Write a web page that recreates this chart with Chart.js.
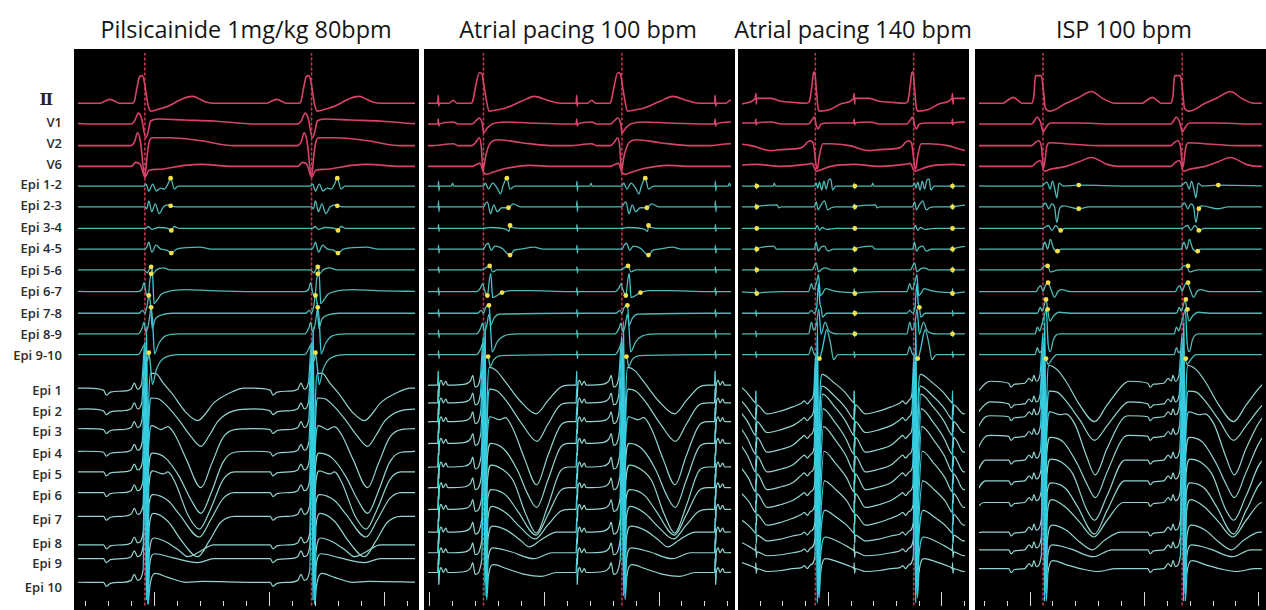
<!DOCTYPE html>
<html>
<head>
<meta charset="utf-8">
<script src="https://cdn.jsdelivr.net/npm/chart.js@4.4.1/dist/chart.umd.min.js"></script>
<style>
  html, body { margin: 0; padding: 0; background: #fff; }
  body { width: 1266px; height: 610px; position: relative; overflow: hidden; font-family: "Open Sans", "Noto Sans", sans-serif; }
  .title { position: absolute; top: 13px; font-size: 23.4px; line-height: 32px; color: #151515; white-space: nowrap; transform: translateX(-50%); }
  .lead { position: absolute; left: 0; width: 62px; text-align: right; font-size: 13px; font-weight: 600; color: #2b2b2b; line-height: 18px; white-space: nowrap; }
  .lead.roman { font-family: "DejaVu Serif", "Liberation Serif", serif; font-size: 16px; font-weight: 700; color: #262626; width: 53px; }
  .panel { position: absolute; top: 49px; background: #000; }
</style>
</head>
<body>
<script>
// ---------------------------------------------------------------
// Recording data: times in ms, amplitudes in display units (up = +)
// ---------------------------------------------------------------
const panelTitles = ['Pilsicainide 1mg/kg 80bpm', 'Atrial pacing 100 bpm', 'Atrial pacing 140 bpm', 'ISP 100 bpm'];
const leadNames = ['Ⅱ', 'V1', 'V2', 'V6',
  'Epi 1-2', 'Epi 2-3', 'Epi 3-4', 'Epi 4-5', 'Epi 5-6', 'Epi 6-7', 'Epi 7-8', 'Epi 8-9', 'Epi 9-10',
  'Epi 1', 'Epi 2', 'Epi 3', 'Epi 4', 'Epi 5', 'Epi 6', 'Epi 7', 'Epi 8', 'Epi 9', 'Epi 10'];

// sweep length shown in each panel (ms)
const sweepMs = [1466, 1322, 982, 1237];

// QRS times of each sweep (ms from its left edge), including the beats just outside it
const beatsP1 = [-434, 291, 1016];
const beatsP2 = [-362, 242, 846, 1450];
const beatsP3 = [-110, 323, 756];
const beatsP4 = [-328, 280, 888];

// QRS reference markers
const qrsMarkP1 = [291, 1016];
const qrsMarkP2 = [242, 846];
const qrsMarkP3 = [323, 756];
const qrsMarkP4 = [280, 888];

// 100 ms time marks: first mark and index of the first 500 ms mark
const timeMarkStart = [30, 6, 78, 21];
const timeMarkMajor = [3, 5, 3, 2];

// ---------- Pilsicainide 80 bpm: one cycle per lead, [ms from QRS, amplitude] ----------
const p1Ecg = [
  [[-250,0],[-195,0],[-175,2],[-152,4],[-130,2],[-110,0],[-55,0],[-46,2],[-35,15],[-23,27],[-11,28],[0,18],[12,0],[25,-8],[45,-7],[100,-3],[150,3],[180,6],[209,7],[240,4],[270,1],[300,0],[475,0]],
  [[-250,0],[-60,0],[-45,3],[-28,11],[-15,6],[4,-14],[14,-8],[25,3],[60,5],[173,4],[300,3],[400,1],[475,0]],
  [[-250,0],[-60,0],[-45,4],[-32,13],[-20,5],[0,-31],[10,-10],[18,3],[32,8],[103,8],[244,5],[385,0],[475,0]],
  [[-250,0],[-60,0],[-40,4],[-20,2],[0,-11],[18,-4],[60,-3],[173,1],[244,2],[385,0],[475,0]]
];
const p1Bip = [
  [[-250,0],[-5,0],[5,2],[17,-5],[34,2],[50,-5],[68,-2],[85,-3],[100,2],[112,8],[128,-3],[145,0],[475,0]],
  [[-250,0],[0,0],[8,-2],[17,6],[30,-5],[45,3],[62,-7],[81,0],[102,2],[112,1],[140,0],[475,0]],
  [[-250,0],[5,0],[15,2],[30,-1],[60,1],[100,0],[115,-2],[128,2],[150,0],[475,0]],
  [[-250,0],[0,0],[8,2],[17,7],[30,-3],[48,4],[70,0],[95,-1],[115,-4],[138,0],[240,2],[290,0],[475,0]],
  [[-250,0],[-5,0],[10,-3],[20,1],[27,3],[35,-4],[50,0],[80,2],[110,0],[475,0]],
  [[-250,0],[-30,0],[-12,3],[-4,9],[4,0],[14,-6],[22,12],[27,18],[32,22],[40,-12],[55,-8],[70,-3],[100,0],[180,2],[280,1],[475,0]],
  [[-250,0],[-25,0],[-10,3],[0,0],[10,8],[17,18],[24,10],[32,-15],[45,-6],[70,-2],[120,0],[475,0]],
  [[-250,0],[-30,0],[-12,6],[-4,12],[4,2],[14,8],[22,20],[27,27],[33,15],[42,-20],[60,-10],[90,-2],[150,0],[475,0]],
  [[-250,0],[-30,0],[-12,6],[-4,10],[4,0],[12,-6],[17,2],[24,-10],[33,-30],[50,-15],[80,-4],[150,0],[475,0]]
];
const p1Uni = [
  [[-250,3],[-180,1],[-168,-4],[-150,-1],[-100,0],[-60,2],[-46,8],[-32,2],[-14,8],[0,50],[6,-212],[14,-40],[26,18],[46,18],[80,8],[120,-3],[180,-22],[230,-30],[260,-24],[300,-12],[386,0],[430,3],[475,3]],
  [[-250,2],[-180,0],[-168,-4],[-150,-1],[-100,0],[-60,2],[-46,8],[-32,2],[-14,8],[1,60],[7,-192],[15,-30],[28,13],[60,12],[100,4],[150,-10],[200,-26],[244,-36],[280,-25],[320,-10],[386,0],[475,2]],
  [[-250,1],[-180,0],[-168,-4],[-150,-1],[-100,0],[-60,2],[-46,8],[-32,2],[-13,9],[2,70],[8,-100],[16,-20],[30,4],[70,0],[100,3],[130,-5],[180,-30],[244,-59],[290,-35],[340,-8],[390,0],[475,1]],
  [[-250,1],[-180,0],[-168,-4],[-150,-1],[-100,0],[-60,2],[-46,8],[-32,2],[-12,10],[3,80],[9,-90],[17,-15],[32,-1],[90,-6],[150,-25],[200,-48],[244,-62],[290,-40],[340,-10],[390,0],[475,1]],
  [[-250,0],[-180,0],[-168,-4],[-150,-1],[-100,0],[-60,2],[-46,8],[-32,2],[-11,10],[4,90],[10,-80],[18,-12],[34,1],[80,-2],[100,0],[130,-10],[190,-45],[237,-58],[285,-38],[340,-8],[390,0],[475,0]],
  [[-250,0],[-180,0],[-168,-4],[-150,-1],[-100,0],[-60,2],[-46,8],[-32,2],[-10,10],[5,100],[11,-70],[19,-10],[36,-2],[100,-8],[150,-22],[237,-45],[285,-28],[340,-6],[390,0],[475,0]],
  [[-250,0],[-180,0],[-168,-4],[-150,-1],[-100,0],[-60,2],[-46,8],[-32,2],[-9,10],[6,130],[12,-60],[20,-8],[38,3],[100,-5],[160,-25],[230,-41],[280,-25],[330,-6],[390,0],[475,0]],
  [[-250,0],[-180,0],[-168,-4],[-150,-1],[-100,0],[-60,2],[-46,8],[-32,2],[-8,12],[6,180],[12,-60],[20,-6],[40,7],[100,2],[150,-6],[187,-12],[230,-8],[300,0],[475,0]],
  [[-250,0],[-180,0],[-168,-4],[-150,-1],[-100,0],[-60,2],[-46,8],[-32,2],[-8,12],[7,230],[13,-46],[21,-5],[42,5],[120,1],[230,-4],[300,0],[475,0]],
  [[-250,0],[-180,0],[-168,-4],[-150,-1],[-100,0],[-60,2],[-46,8],[-32,2],[-8,12],[8,260],[14,-22],[22,-3],[44,9],[100,5],[180,0],[250,1],[475,0]]
];
// activation marks: [bipolar lead index, ms, amplitude]
const p1Marks = [[0,403,8],[0,1128,8],[1,403,1],[1,1128,1],[2,406,-2],[2,1131,-2],[3,406,-4],[3,1131,-4],
  [4,318,3],[4,1043,3],[5,318,18],[5,1043,18],[6,308,18],[6,1033,18],[7,318,27],[7,1043,27],[8,308,2],[8,1033,2]];

// ---------- Atrial pacing 100 bpm (stimulus 196 ms before QRS) ----------
const p2Ecg = [
  [[-230,0],[-200,0],[-197,8],[-195,-3],[-192,0],[-150,0],[-132,3],[-115,0],[-55,0],[-47,2],[-35,16],[-18,31],[-7,30],[2,18],[13,3],[24,-8],[50,-7],[94,-5],[166,2],[222,7],[279,3],[336,0],[374,0]],
  [[-230,0],[-200,0],[-197,5],[-195,-2],[-192,0],[-132,2],[-110,0],[-50,0],[-30,4],[-18,6],[-5,0],[0,-9],[17,-4],[38,0],[100,2],[200,1],[374,0]],
  [[-230,0],[-132,2],[-110,0],[-50,0],[-35,3],[-18,8],[-10,0],[-2,-25],[10,-10],[31,3],[66,6],[166,3],[308,0],[374,0]],
  [[-230,0],[-50,0],[-30,2],[-15,3],[0,-6],[15,-8],[40,-6],[100,-2],[200,1],[300,0],[374,0]]
];
const p2Bip = [
  [[-230,0],[-198,0],[-196,5],[-194,-5],[-192,0],[-140,0],[-135,3],[-130,0],[0,0],[8,3],[22,-3],[40,3],[62,-3],[74,-8],[85,0],[102,8],[116,-3],[138,0],[374,0]],
  [[-230,0],[-198,0],[-196,6],[-194,-5],[-192,0],[0,0],[8,3],[17,5],[31,-7],[45,2],[60,-5],[80,-1],[109,-1],[130,3],[160,0],[374,0]],
  [[-230,0],[-198,0],[-196,4],[-194,-3],[-192,0],[0,0],[30,1],[100,-1],[112,-3],[116,3],[125,1],[160,0],[374,0]],
  [[-230,0],[-198,0],[-196,4],[-194,-4],[-192,0],[0,0],[10,4],[20,6],[34,-1],[50,3],[80,1],[116,-6],[135,-1],[160,0],[220,2],[260,0],[374,0]],
  [[-230,0],[-198,0],[-196,3],[-194,-3],[-192,0],[-5,0],[10,2],[27,4],[40,-2],[60,0],[374,0]],
  [[-230,0],[-198,0],[-196,4],[-194,-4],[-192,0],[-30,0],[-12,4],[-4,8],[4,2],[17,-4],[26,12],[32,18],[40,-6],[60,-4],[81,-1],[120,1],[200,1],[374,0]],
  [[-230,0],[-198,0],[-196,4],[-194,-4],[-192,0],[-25,0],[-10,3],[0,0],[10,6],[24,8],[32,-12],[46,-5],[70,-1],[374,0]],
  [[-230,0],[-198,0],[-196,4],[-194,-4],[-192,0],[-30,0],[-12,6],[-4,11],[4,2],[14,8],[24,20],[30,10],[38,-18],[60,-8],[90,-2],[150,0],[374,0]],
  [[-230,0],[-198,0],[-196,4],[-194,-4],[-192,0],[-30,0],[-12,6],[-4,11],[4,0],[12,-3],[20,-2],[30,-12],[45,-5],[80,-1],[374,0]]
];
const p2Uni = [
  [[-230,0],[-200,0],[-197,14],[-195,-12],[-192,0],[-184,5],[-176,0],[-164,4],[-156,0],[-80,1],[-55,5],[-47,10],[-36,-2],[-14,8],[0,50],[6,-200],[14,-40],[26,18],[55,15],[100,2],[160,-16],[230,-29],[280,-16],[336,-2],[374,0]],
  [[-230,0],[-200,0],[-197,14],[-195,-12],[-192,0],[-184,5],[-176,0],[-164,4],[-156,0],[-80,1],[-55,5],[-47,10],[-36,-2],[-14,8],[1,60],[7,-196],[15,-30],[28,14],[60,12],[100,2],[170,-22],[234,-39],[280,-22],[336,-2],[374,0]],
  [[-230,0],[-200,0],[-197,14],[-195,-12],[-192,0],[-184,5],[-176,0],[-164,4],[-156,0],[-80,1],[-55,5],[-47,10],[-36,-2],[-13,9],[2,70],[8,-110],[16,-20],[30,5],[70,2],[95,4],[130,-8],[180,-38],[232,-64],[280,-35],[336,-4],[374,0]],
  [[-230,0],[-200,0],[-197,14],[-195,-12],[-192,0],[-184,5],[-176,0],[-164,4],[-156,0],[-80,1],[-55,5],[-47,10],[-36,-2],[-12,10],[3,80],[9,-95],[17,-15],[32,0],[90,-6],[150,-28],[190,-50],[232,-65],[280,-38],[336,-4],[374,0]],
  [[-230,0],[-200,0],[-197,14],[-195,-12],[-192,0],[-184,5],[-176,0],[-164,4],[-156,0],[-80,1],[-55,5],[-47,10],[-36,-2],[-11,10],[4,90],[10,-85],[18,-12],[34,2],[80,-2],[130,-14],[185,-48],[230,-67],[280,-40],[336,-4],[374,0]],
  [[-230,0],[-200,0],[-197,14],[-195,-12],[-192,0],[-184,5],[-176,0],[-164,4],[-156,0],[-80,1],[-55,5],[-47,10],[-36,-2],[-10,10],[5,100],[11,-75],[19,-10],[36,-2],[100,-8],[150,-24],[230,-48],[280,-28],[336,-3],[374,0]],
  [[-230,0],[-200,0],[-197,14],[-195,-12],[-192,0],[-184,5],[-176,0],[-164,4],[-156,0],[-80,1],[-55,5],[-47,10],[-36,-2],[-9,10],[6,130],[12,-65],[20,-8],[38,3],[100,-4],[160,-18],[225,-30],[280,-16],[336,-2],[374,0]],
  [[-230,0],[-200,0],[-197,14],[-195,-12],[-192,0],[-184,5],[-176,0],[-164,4],[-156,0],[-80,1],[-55,5],[-47,10],[-36,-2],[-8,12],[6,175],[12,-62],[20,-6],[40,6],[100,2],[160,-8],[200,-15],[250,-8],[320,0],[374,0]],
  [[-230,0],[-200,0],[-197,14],[-195,-12],[-192,0],[-184,5],[-176,0],[-164,4],[-156,0],[-80,1],[-55,5],[-47,10],[-36,-2],[-8,12],[7,225],[13,-46],[21,-5],[42,5],[120,1],[220,-6],[300,0],[374,0]],
  [[-230,0],[-200,0],[-197,14],[-195,-12],[-192,0],[-184,5],[-176,0],[-164,4],[-156,0],[-80,1],[-55,5],[-47,10],[-36,-2],[-8,12],[8,255],[14,-28],[22,-3],[44,8],[100,4],[180,-2],[250,-4],[320,0],[374,0]]
];
const p2Marks = [[0,344,8],[0,948,8],[1,351,-1],[1,955,-1],[2,358,3],[2,962,3],[3,358,-6],[3,962,-6],
  [4,269,4],[4,873,4],[5,259,-4],[5,863,-4],[5,323,-1],[5,927,-1],[6,266,8],[6,870,8],[8,262,-2],[8,866,-2]];

// ---------- Atrial pacing 140 bpm (stimulus 172 ms after QRS) ----------
const p3Ecg = [
  [[-150,2],[-100,1],[-40,0],[-26,2],[-15,18],[-8,31],[-3,32],[4,15],[12,-5],[18,-8],[68,-6],[120,0],[168,5],[171,10],[173,-1],[175,5],[200,5],[238,5],[283,2]],
  [[-150,0],[-30,0],[-15,4],[-5,7],[5,-2],[12,-5],[25,0],[60,1],[168,1],[171,5],[173,-1],[175,1],[240,2],[283,0]],
  [[-150,-4],[-60,-2],[-24,5],[-10,3],[8,-24],[18,-10],[33,2],[68,2],[150,0],[238,-5],[283,-4]],
  [[-150,0],[-40,2],[-15,3],[4,-5],[18,-4],[68,0],[170,2],[283,0]]
];
const p3Bip = [
  [[-150,0],[-5,0],[4,3],[10,-2],[18,4],[28,-4],[38,5],[48,-3],[58,6],[68,7],[76,-4],[90,0],[170,0],[171,3],[173,-3],[175,0],[248,0],[252,3],[258,0],[283,0]],
  [[-150,0],[-5,0],[4,5],[12,-3],[25,2],[40,6],[55,-3],[70,-1],[90,0],[170,0],[171,3],[173,-3],[175,0],[265,2],[272,-1],[283,0]],
  [[-150,0],[0,0],[8,3],[18,-2],[30,1],[50,-1],[90,0],[170,0],[171,2],[173,-2],[175,0],[283,0]],
  [[-150,0],[-5,0],[4,7],[12,-2],[25,2],[40,3],[55,-2],[80,0],[170,0],[171,3],[173,-3],[175,0],[250,3],[262,0],[283,0]],
  [[-150,0],[-15,0],[4,7],[14,-2],[30,1],[45,2],[70,0],[170,0],[171,3],[173,-3],[175,0],[283,0]],
  [[-150,0],[-30,0],[-17,8],[-8,2],[4,8],[14,17],[22,-4],[32,-2],[45,3],[75,1],[100,0],[170,-1],[171,3],[173,-4],[175,-2],[283,0]],
  [[-150,0],[-30,0],[-17,3],[-5,0],[6,6],[14,30],[20,10],[25,6],[32,-4],[50,0],[170,0],[171,3],[173,-3],[175,0],[283,0]],
  [[-150,0],[-30,0],[-17,12],[-8,4],[5,10],[15,25],[25,0],[43,12],[60,3],[100,0],[170,0],[171,3],[173,-3],[175,0],[283,0]],
  [[-150,0],[-30,0],[-17,8],[-8,2],[5,-2],[18,-4],[30,5],[50,25],[68,10],[80,-5],[100,0],[170,0],[171,3],[173,-3],[175,0],[283,0]]
];
const p3Uni = [
  [[-150,-7],[-100,-3],[-60,1],[-48,3],[-36,0],[-20,4],[-8,10],[2,50],[8,-200],[16,-30],[30,30],[80,22],[130,12],[165,2],[170,1],[171,13],[173,-11],[176,-1],[220,-10],[283,-7]],
  [[-150,-9],[-100,-5],[-60,1],[-48,3],[-36,0],[-20,4],[-8,10],[3,60],[9,-185],[17,-25],[30,35],[80,26],[130,14],[165,2],[170,1],[171,13],[173,-11],[176,-1],[220,-12],[283,-9]],
  [[-150,-11],[-100,-7],[-60,1],[-48,3],[-36,0],[-20,4],[-7,10],[4,70],[10,-100],[18,-20],[32,45],[82,33],[132,18],[165,4],[170,3],[171,15],[173,-9],[176,1],[220,-14],[283,-11]],
  [[-150,-11],[-100,-7],[-60,1],[-48,3],[-36,0],[-20,4],[-6,10],[5,80],[11,-90],[19,-15],[34,50],[84,37],[134,20],[165,5],[170,4],[171,16],[173,-8],[176,2],[220,-14],[283,-11]],
  [[-150,-11],[-100,-7],[-60,1],[-48,3],[-36,0],[-20,4],[-5,10],[6,90],[12,-80],[20,-12],[36,50],[86,37],[136,20],[165,5],[170,4],[171,16],[173,-8],[176,2],[220,-14],[283,-11]],
  [[-150,-9],[-100,-5],[-60,1],[-48,3],[-36,0],[-20,4],[-4,10],[7,100],[13,-70],[21,-10],[38,45],[88,33],[138,18],[165,5],[170,4],[171,16],[173,-8],[176,2],[220,-12],[283,-9]],
  [[-150,-7],[-100,-3],[-60,1],[-48,3],[-36,0],[-20,4],[-3,10],[8,130],[14,-60],[22,-8],[40,35],[90,26],[140,14],[165,4],[170,3],[171,15],[173,-9],[176,1],[220,-10],[283,-7]],
  [[-150,-4],[-100,-1],[-60,1],[-48,3],[-36,0],[-20,4],[-2,12],[8,180],[14,-60],[22,-6],[42,25],[92,18],[142,9],[165,3],[170,2],[171,12],[173,-8],[176,0],[220,-6],[283,-4]],
  [[-150,-3],[-100,-1],[-60,1],[-48,3],[-36,0],[-20,4],[-2,12],[9,230],[15,-46],[23,-5],[44,15],[94,11],[144,5],[165,2],[170,1],[171,8],[173,-6],[176,0],[220,-4],[283,-3]],
  [[-150,-2],[-100,0],[-60,1],[-48,3],[-36,0],[-20,4],[-2,12],[10,250],[16,-30],[24,-3],[46,10],[96,7],[146,3],[165,1],[170,0],[171,6],[173,-5],[176,0],[220,-3],[283,-2]]
];
const p3Marks = [[0,65,0],[0,497,0],[0,927,0],[1,65,0],[1,497,0],[1,927,0],[2,65,0],[2,497,0],[2,927,0],
  [3,65,0],[3,497,0],[3,927,0],[4,65,0],[4,497,0],[4,927,0],[5,65,-2],[5,497,-2],[5,927,-2],
  [6,497,0],[6,781,6],[7,497,0],[7,927,0],[8,341,-4],[8,774,-4]];

// ---------- Isoproterenol, 100 bpm ----------
const p4Ecg = [
  [[-230,0],[-175,0],[-155,3],[-130,6],[-110,3],[-90,0],[-50,0],[-40,8],[-33,28],[-8,28],[2,12],[10,-5],[31,-8],[100,0],[150,5],[212,12],[260,5],[314,0],[378,0]],
  [[-230,0],[-50,0],[-38,3],[-26,7],[-10,1],[0,-8],[17,-2],[31,1],[150,1],[300,0],[378,0]],
  [[-230,0],[-50,0],[-35,3],[-20,5],[-8,0],[3,-22],[17,0],[31,3],[100,2],[250,0],[378,0]],
  [[-230,0],[-50,0],[-30,4],[-12,6],[6,-5],[31,-3],[100,0],[160,5],[212,9],[280,2],[330,0],[378,0]]
];
const p4Bip = [
  [[-230,0],[-5,0],[5,2],[17,4],[31,-3],[41,5],[52,-4],[60,-12],[70,3],[88,0],[156,1],[378,0]],
  [[-230,0],[-5,0],[10,4],[25,-2],[38,3],[50,0],[60,-16],[72,-2],[88,1],[156,-2],[200,0],[378,0]],
  [[-230,0],[0,0],[12,2],[24,3],[38,-2],[55,3],[76,-2],[95,0],[378,0]],
  [[-230,0],[-5,0],[8,7],[20,0],[32,10],[45,1],[62,-2],[80,0],[378,0]],
  [[-230,0],[-10,0],[5,4],[20,4],[32,-2],[50,-1],[70,0],[378,0]],
  [[-230,0],[-30,0],[-20,4],[-10,6],[0,0],[10,6],[21,9],[35,2],[50,-6],[65,0],[80,2],[120,0],[378,0]],
  [[-230,0],[-25,0],[-12,6],[-4,2],[5,8],[13,14],[20,4],[30,-8],[45,-3],[70,1],[120,0],[378,0]],
  [[-230,0],[-35,0],[-25,7],[-15,3],[-5,10],[5,18],[14,25],[22,-10],[32,-18],[45,-6],[70,0],[378,0]],
  [[-230,0],[-35,0],[-25,7],[-15,2],[-5,4],[5,-2],[13,-4],[22,-10],[35,-6],[60,0],[378,0]]
];
const p4Uni = [
  [[-230,2],[-150,0],[-140,-4],[-125,-1],[-80,0],[-61,5],[-48,2],[-40,8],[-30,2],[-14,8],[0,50],[6,-221],[14,-40],[26,18],[60,14],[100,2],[160,-22],[225,-39],[280,-22],[357,0],[378,2]],
  [[-230,2],[-150,0],[-140,-4],[-125,-1],[-80,0],[-61,5],[-48,2],[-40,8],[-30,2],[-14,8],[1,60],[7,-200],[15,-30],[28,13],[62,12],[100,3],[160,-16],[225,-37],[280,-22],[357,0],[378,2]],
  [[-230,1],[-150,0],[-140,-4],[-125,-1],[-80,0],[-61,5],[-48,2],[-40,8],[-30,2],[-13,9],[2,70],[8,-110],[16,-20],[30,5],[75,2],[100,3],[140,-8],[190,-40],[228,-59],[280,-32],[357,0],[378,1]],
  [[-230,1],[-150,0],[-140,-4],[-125,-1],[-80,0],[-61,5],[-48,2],[-40,8],[-30,2],[-12,10],[3,80],[9,-95],[17,-15],[32,-1],[90,-6],[150,-28],[195,-50],[228,-62],[280,-36],[357,0],[378,1]],
  [[-230,0],[-150,0],[-140,-4],[-125,-1],[-80,0],[-61,5],[-48,2],[-40,8],[-30,2],[-11,10],[4,90],[10,-85],[18,-12],[34,1],[80,-2],[130,-14],[190,-50],[225,-61],[280,-36],[357,0],[378,0]],
  [[-230,0],[-150,0],[-140,-4],[-125,-1],[-80,0],[-61,5],[-48,2],[-40,8],[-30,2],[-10,10],[5,100],[11,-75],[19,-10],[36,-2],[100,-8],[150,-26],[225,-54],[280,-30],[357,0],[378,0]],
  [[-230,0],[-150,0],[-140,-4],[-125,-1],[-80,0],[-61,5],[-48,2],[-40,8],[-30,2],[-9,10],[6,130],[12,-65],[20,-8],[38,3],[100,-5],[160,-20],[222,-35],[280,-18],[350,0],[378,0]],
  [[-230,0],[-150,0],[-140,-4],[-125,-1],[-80,0],[-61,5],[-48,2],[-40,8],[-30,2],[-8,12],[6,180],[12,-62],[20,-6],[40,7],[100,2],[160,-10],[215,-18],[270,-8],[340,0],[378,0]],
  [[-230,0],[-150,0],[-140,-4],[-125,-1],[-80,0],[-61,5],[-48,2],[-40,8],[-30,2],[-8,12],[7,230],[13,-50],[21,-5],[42,5],[120,1],[220,-7],[300,0],[378,0]],
  [[-230,0],[-150,0],[-140,-4],[-125,-1],[-80,0],[-61,5],[-48,2],[-40,8],[-30,2],[-8,12],[8,255],[14,-33],[22,-3],[44,8],[100,4],[180,-1],[240,-3],[320,0],[378,0]]
];
const p4Marks = [[0,436,1],[0,1046,1],[1,436,-2],[1,961,-2],[2,357,-2],[2,961,-2],[3,343,-2],[3,956,-2],
  [4,300,4],[4,914,4],[5,302,9],[5,914,9],[6,293,14],[6,300,4],[6,904,14],[6,911,4],[8,293,-4],[8,904,-4]];

// ---------------------------------------------------------------
// Layout (page pixels) and styling
// ---------------------------------------------------------------
const panels = [
  { left: 74,  width: 345, titleX: 246 },
  { left: 424, width: 311, titleX: 578 },
  { left: 738, width: 231, titleX: 853 },
  { left: 975, width: 291, titleX: 1124 }
];
const PANEL_TOP = 49, PANEL_BOTTOM = 610;
// baselines of ECG and bipolar rows (shared by all panels)
const rowY = [100, 121, 143, 164, 184, 205, 227, 248, 269, 291, 313, 334, 355];
// baselines of unipolar rows, per panel
const uniRowY = [
  [392, 412, 431, 454, 474, 495, 519, 548, 562, 586],
  [386, 404, 423, 445, 469, 490, 512, 535, 556, 576],
  [405, 422, 440, 460, 478, 498, 518, 538, 555, 572],
  [384, 405, 418, 438, 462, 483, 505, 535, 553, 572]
];
const labelY = [100, 122, 143, 164, 184, 205, 227, 248, 270, 291, 313, 334, 355,
  390, 411, 431, 453, 474, 495, 519, 543, 563, 587];

const COLORS = {
  ecg: '#d8436a', bip: '#4fb9b6', uni: '#93d3d0', spike: '#37cde0',
  mark: '#f3e04a', qrs: '#c2354f', tick: '#d8d8d8'
};

const panelData = [
  { beats: beatsP1, marks: qrsMarkP1, ecg: p1Ecg, bip: p1Bip, uni: p1Uni, acts: p1Marks },
  { beats: beatsP2, marks: qrsMarkP2, ecg: p2Ecg, bip: p2Bip, uni: p2Uni, acts: p2Marks },
  { beats: beatsP3, marks: qrsMarkP3, ecg: p3Ecg, bip: p3Bip, uni: p3Uni, acts: p3Marks },
  { beats: beatsP4, marks: qrsMarkP4, ecg: p4Ecg, bip: p4Bip, uni: p4Uni, acts: p4Marks }
];

// place one cycle at every beat, giving a continuous sweep
function sweep(cycle, beats, base) {
  const pts = [];
  let last = -Infinity;
  beats.forEach(b => cycle.forEach(([dt, a]) => {
    const t = b + dt;
    if (t <= last) return;
    last = t;
    pts.push({ x: t, y: base - a });
  }));
  return pts;
}

// bright colour for the steep, large deflections
function steep(c) {
  const dy = Math.abs(c.p1.y - c.p0.y), dx = Math.abs(c.p1.x - c.p0.x);
  return (dy > 18 && dy > 3 * dx) ? COLORS.spike : undefined;
}

const timeMarks = {
  id: 'timeMarks',
  afterDatasetsDraw(chart, args, opts) {
    const { ctx, chartArea, scales: { x } } = chart;
    ctx.save();
    ctx.strokeStyle = COLORS.tick;
    ctx.lineWidth = 1;
    for (let i = 0; ; i++) {
      const t = opts.start + i * 100;
      if (t > x.max) break;
      const px = Math.round(x.getPixelForValue(t)) + 0.5;
      const len = ((i - opts.major) % 5 === 0) ? 14 : 5;
      ctx.beginPath();
      ctx.moveTo(px, chartArea.bottom);
      ctx.lineTo(px, chartArea.bottom - len);
      ctx.stroke();
    }
    ctx.restore();
  }
};

// titles and lead labels
panels.forEach((p, i) => {
  const d = document.createElement('div');
  d.className = 'title';
  d.style.left = p.titleX + 'px';
  d.textContent = panelTitles[i];
  document.body.appendChild(d);
});
leadNames.forEach((n, i) => {
  const d = document.createElement('div');
  d.className = 'lead' + (n === 'Ⅱ' ? ' roman' : '');
  d.style.top = (labelY[i] - 9) + 'px';
  d.textContent = n;
  document.body.appendChild(d);
});

panels.forEach((p, pi) => {
  const pd = panelData[pi];
  const cv = document.createElement('canvas');
  cv.className = 'panel';
  cv.width = p.width; cv.height = PANEL_BOTTOM - PANEL_TOP;
  cv.style.left = p.left + 'px';
  cv.style.width = p.width + 'px';
  cv.style.height = (PANEL_BOTTOM - PANEL_TOP) + 'px';
  document.body.appendChild(cv);

  const datasets = [];
  pd.marks.forEach(t => datasets.push({
    data: [{ x: t, y: PANEL_TOP }, { x: t, y: PANEL_BOTTOM }],
    borderColor: COLORS.qrs, borderWidth: 1.6, borderDash: [2, 3], pointRadius: 0, order: 5
  }));
  pd.uni.forEach((c, i) => datasets.push({
    data: sweep(c, pd.beats, uniRowY[pi][i]),
    borderColor: COLORS.uni, borderWidth: 1.2, pointRadius: 0, order: 3,
    cubicInterpolationMode: 'monotone', segment: { borderColor: steep }
  }));
  pd.bip.forEach((c, i) => datasets.push({
    data: sweep(c, pd.beats, rowY[4 + i]),
    borderColor: COLORS.bip, borderWidth: 1.3, pointRadius: 0, order: 2,
    cubicInterpolationMode: 'monotone', segment: { borderColor: steep }
  }));
  pd.ecg.forEach((c, i) => datasets.push({
    data: sweep(c, pd.beats, rowY[i]),
    borderColor: COLORS.ecg, borderWidth: 1.6, pointRadius: 0, order: 2,
    cubicInterpolationMode: 'monotone'
  }));
  datasets.push({
    data: pd.acts.map(([lead, t, a]) => ({ x: t, y: rowY[4 + lead] - a })),
    showLine: false, pointRadius: 2.4, pointBorderWidth: 0,
    pointBackgroundColor: COLORS.mark, order: 0
  });

  new Chart(cv, {
    type: 'line',
    data: { datasets },
    options: {
      responsive: false, animation: false, devicePixelRatio: 1,
      layout: { padding: 0 },
      plugins: { legend: { display: false }, tooltip: { enabled: false },
        timeMarks: { start: timeMarkStart[pi], major: timeMarkMajor[pi] } },
      scales: {
        x: { type: 'linear', min: 0, max: sweepMs[pi], display: false },
        y: { type: 'linear', min: PANEL_TOP, max: PANEL_BOTTOM, reverse: true, display: false }
      },
      elements: { line: { borderJoinStyle: 'round', borderCapStyle: 'round' } }
    },
    plugins: [timeMarks]
  });
});
</script>
</body>
</html>
